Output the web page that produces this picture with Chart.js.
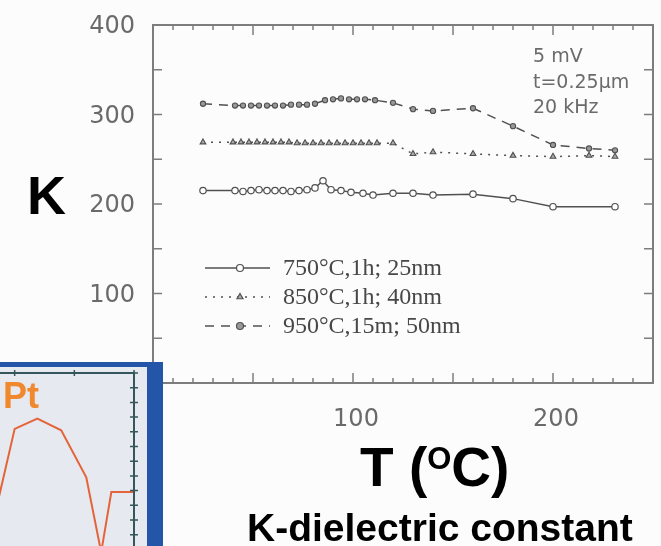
<!DOCTYPE html>
<html>
<head>
<meta charset="utf-8">
<script src="https://cdn.jsdelivr.net/npm/chart.js@4.4.1/dist/chart.umd.min.js"></script>
<style>
  html, body { margin: 0; padding: 0; background: #fcfcfc; }
  #wrap { position: relative; width: 661px; height: 546px; overflow: hidden; }
  #main { position: absolute; left: 0; top: 0; }
  .big { position: absolute; font-family: "Liberation Sans", Arial, sans-serif; font-weight: bold; color: #000; line-height: 1; white-space: nowrap; }
  #kLabel { left: 27px; top: 168px; font-size: 54px; }
  #tLabel { left: 360px; top: 440px; font-size: 55px; }
  #tLabel span { font-size: 31px; position: relative; top: -17px; }
  #caption { left: 247px; top: 508px; font-size: 39px; }
  #note { position: absolute; left: 533px; top: 43px; font-family: "DejaVu Sans", sans-serif; font-size: 19px; line-height: 25.5px; color: #6b6b6b; white-space: nowrap; }
  #inset { position: absolute; left: 0; top: 362px; width: 163px; height: 184px; background: #2356a8; overflow: hidden; }
  #insetBg { position: absolute; left: 0; top: 5px; width: 147px; height: 179px; background: #e7e9f1; overflow: hidden; }
  #insetChart { position: absolute; left: -45px; top: 0; }
  #pt { position: absolute; left: 3px; top: 11px; font-family: "Liberation Sans", Arial, sans-serif; font-weight: bold; font-size: 36px; line-height: 1; color: #f0892e; }
</style>
</head>
<body>
<div id="wrap">
  <canvas id="main" width="661" height="546"></canvas>
  <div id="note">5 mV<br>t=0.25µm<br>20 kHz</div>
  <div id="kLabel" class="big">K</div>
  <div id="tLabel" class="big">T (<span>O</span>C)</div>
  <div id="caption" class="big">K-dielectric constant</div>
  <div id="inset">
    <div id="insetBg">
      <canvas id="insetChart" width="192" height="200"></canvas>
      <div id="pt">Pt</div>
    </div>
  </div>
</div>
<script>
// --- DATA ---
const temps750 = [25, 41, 45, 49, 53, 57, 61, 65, 69, 73, 77, 81, 85, 89, 94, 99, 105, 110, 120, 130, 140, 160, 180, 200, 231];
const k750     = [215, 215, 214, 215, 216, 215, 215, 215, 214, 215, 216, 218, 226, 216, 215, 213, 212, 210, 212, 212, 210, 211, 206, 197, 197];

const temps850 = [25, 40, 44, 48, 52, 56, 60, 64, 68, 72, 76, 80, 84, 88, 92, 96, 100, 104, 108, 112, 120, 130, 140, 160, 180, 200, 218, 231];
const k850     = [269, 269, 269, 269, 269, 269, 269, 269, 269, 268, 268, 268, 268, 268, 268, 268, 268, 268, 268, 268, 268, 256, 258, 256, 254, 253, 254, 253];

const temps950 = [25, 41, 45, 49, 53, 57, 61, 65, 69, 73, 77, 81, 86, 90, 94, 98, 102, 106, 111, 120, 130, 140, 160, 180, 200, 218, 231];
const k950     = [312, 310, 310, 310, 310, 310, 310, 310, 311, 311, 311, 312, 316, 317, 318, 317, 317, 317, 316, 313, 306, 304, 307, 287, 266, 262, 260];

const seriesLabels = ['750°C,1h; 25nm', '850°C,1h; 40nm', '950°C,15m; 50nm'];
const xTickLabels = [0, 100, 200];
const yTickLabels = [0, 100, 200, 300, 400];

// cropped corner of a neighbouring figure (Pt curve)
const insetX = [0.5, 0.75, 1.0, 1.38, 1.78, 2.2, 2.45, 2.62, 3.0];
const insetY = [-0.5, 3.8, 8.2, 8.9, 8.1, 4.9, -0.2, 3.9, 3.9];

const ink = '#505050';
const toXY = (xs, ys) => xs.map((x, i) => ({ x, y: ys[i] }));

// --- PLUGINS ---
// box frame with inward ticks on all four sides
const frameTicks = {
  id: 'frameTicks',
  beforeDatasetsDraw(chart) {
    const { ctx, chartArea: a, scales: { x, y } } = chart;
    ctx.save();
    ctx.strokeStyle = '#7d7d7d';
    ctx.lineWidth = 2;
    ctx.strokeRect(a.left, a.top, a.right - a.left, a.bottom - a.top);
    ctx.lineWidth = 1.5;
    ctx.beginPath();
    for (let v = 10; v < 250; v += 10) {
      const px = x.getPixelForValue(v);
      const len = v % 50 === 0 ? 10 : 5;
      ctx.moveTo(px, a.top); ctx.lineTo(px, a.top + len);
      ctx.moveTo(px, a.bottom); ctx.lineTo(px, a.bottom - len);
    }
    for (let v = 50; v < 400; v += 50) {
      const py = y.getPixelForValue(v);
      ctx.moveTo(a.left, py); ctx.lineTo(a.left + 9, py);
      ctx.moveTo(a.right, py); ctx.lineTo(a.right - 9, py);
    }
    ctx.stroke();
    ctx.restore();
  }
};

// legend drawn inside the plot, line sample with marker in the middle
const innerLegend = {
  id: 'innerLegend',
  afterDatasetsDraw(chart) {
    const ctx = chart.ctx;
    ctx.save();
    chart.data.datasets.forEach((ds, i) => {
      const yy = 268 + i * 29;
      ctx.strokeStyle = ds.borderColor;
      ctx.lineWidth = ds.borderWidth;
      ctx.setLineDash(ds.borderDash || []);
      ctx.beginPath();
      ctx.moveTo(205, yy); ctx.lineTo(270, yy);
      ctx.stroke();
      ctx.setLineDash([]);
      ctx.fillStyle = ds.pointBackgroundColor;
      ctx.lineWidth = 1.2;
      Chart.helpers.drawPoint(ctx, { pointStyle: ds.pointStyle, radius: 3.5, rotation: 0, borderWidth: 1.2 }, 240, yy);
      ctx.fillStyle = '#474747';
      ctx.font = '24px "Liberation Serif", serif';
      ctx.textBaseline = 'middle';
      ctx.fillText(ds.label, 283, yy + 1);
    });
    ctx.restore();
  }
};

// --- MAIN CHART ---
new Chart(document.getElementById('main').getContext('2d'), {
  type: 'line',
  data: {
    datasets: [
      {
        label: seriesLabels[0], data: toXY(temps750, k750),
        borderColor: ink, borderWidth: 1.5,
        pointStyle: 'circle', pointRadius: 3.2, pointBorderWidth: 1.2,
        pointBorderColor: ink, pointBackgroundColor: '#fff'
      },
      {
        label: seriesLabels[1], data: toXY(temps850, k850),
        borderColor: ink, borderWidth: 1.5, borderDash: [2, 6],
        pointStyle: 'triangle', pointRadius: 3.3, pointBorderWidth: 1.1,
        pointBorderColor: ink, pointBackgroundColor: '#aaa'
      },
      {
        label: seriesLabels[2], data: toXY(temps950, k950),
        borderColor: ink, borderWidth: 1.5, borderDash: [9, 7],
        pointStyle: 'circle', pointRadius: 2.6, pointBorderWidth: 1.1,
        pointBorderColor: ink, pointBackgroundColor: '#999'
      }
    ]
  },
  options: {
    responsive: false,
    animation: false,
    layout: { padding: { top: 25, right: 8, left: 0, bottom: 0 } },
    plugins: { legend: { display: false }, tooltip: { enabled: false } },
    scales: {
      x: {
        type: 'linear', min: 0, max: 250,
        afterBuildTicks: s => { s.ticks = xTickLabels.map(v => ({ value: v })); },
        afterFit: s => { s.height = 163; s.paddingLeft = 0; s.paddingRight = 0; },
        grid: { display: false, drawTicks: false },
        border: { display: false },
        ticks: { padding: 22, labelOffset: 3, color: '#6a6a6a', font: { family: 'DejaVu Sans', size: 24 } }
      },
      y: {
        type: 'linear', min: 0, max: 400,
        afterBuildTicks: s => { s.ticks = yTickLabels.map(v => ({ value: v })); },
        afterFit: s => { s.width = 153; s.paddingTop = 0; s.paddingBottom = 0; },
        grid: { display: false, drawTicks: false },
        border: { display: false },
        ticks: { padding: 18, labelOffset: 2, color: '#6a6a6a', font: { family: 'DejaVu Sans', size: 24 } }
      }
    }
  },
  plugins: [frameTicks, innerLegend]
});

// --- INSET (cropped neighbour figure) ---
const insetAxes = {
  id: 'insetAxes',
  afterDatasetsDraw(chart) {
    const { ctx, chartArea: a, scales: { x, y } } = chart;
    ctx.save();
    ctx.strokeStyle = '#35565a';
    ctx.lineWidth = 2;
    ctx.beginPath();
    ctx.moveTo(a.left, a.top); ctx.lineTo(a.right + 1, a.top);
    ctx.moveTo(a.right, a.top); ctx.lineTo(a.right, a.bottom);
    ctx.stroke();
    ctx.lineWidth = 1.5;
    ctx.beginPath();
    for (let v = 1; v <= 3; v++) {
      const px = x.getPixelForValue(v);
      ctx.moveTo(px, a.top - 3); ctx.lineTo(px, a.top + 3);
    }
    for (let v = 12; v >= -1; v--) {
      const py = y.getPixelForValue(v);
      ctx.moveTo(a.right - 4, py); ctx.lineTo(a.right + 4, py);
    }
    ctx.stroke();
    ctx.restore();
  }
};

new Chart(document.getElementById('insetChart').getContext('2d'), {
  type: 'line',
  data: {
    datasets: [{
      data: toXY(insetX, insetY),
      borderColor: '#e4643a', borderWidth: 2, pointRadius: 0
    }]
  },
  options: {
    responsive: false,
    animation: false,
    layout: { padding: { top: 6, right: 13, left: 0, bottom: 0 } },
    plugins: { legend: { display: false }, tooltip: { enabled: false } },
    scales: {
      x: { type: 'linear', display: false, min: 0, max: 3 },
      y: { type: 'linear', display: false, min: -1.2, max: 12 }
    }
  },
  plugins: [insetAxes]
});
</script>
</body>
</html>
